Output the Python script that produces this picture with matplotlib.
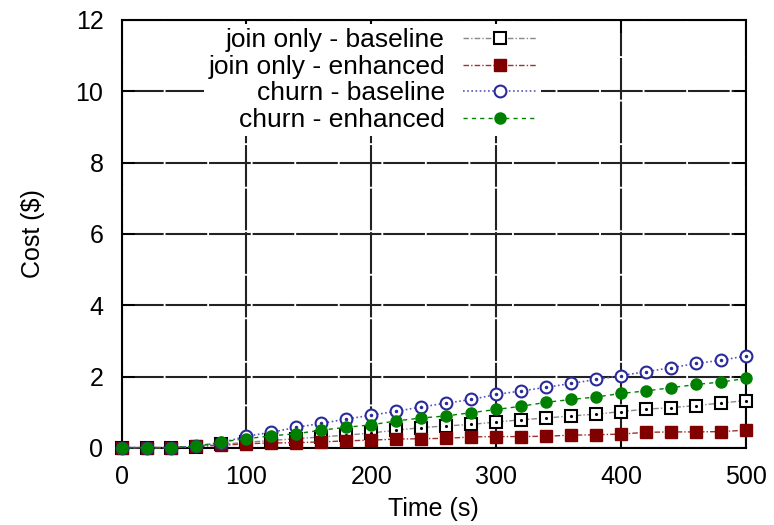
import matplotlib
matplotlib.use("Agg")
import matplotlib.pyplot as plt

plt.rcParams['font.family'] = ['Liberation Sans', 'DejaVu Sans']

# tempo (s) e custo ($)
tempo = [0, 20, 40, 60, 80, 100, 120, 140, 160, 180, 200, 220, 240, 260,
         280, 300, 320, 340, 360, 380, 400, 420, 440, 460, 480, 500]
join_baseline = [0.01, 0.01, 0.01, 0.04, 0.10, 0.16, 0.21, 0.26, 0.31, 0.36, 0.42, 0.50, 0.57,
                 0.62, 0.66, 0.73, 0.79, 0.84, 0.90, 0.95, 1.02, 1.09, 1.13, 1.19, 1.26, 1.33]
join_enhanced = [0.01, 0.01, 0.01, 0.05, 0.07, 0.12, 0.14, 0.15, 0.17, 0.20, 0.22, 0.25, 0.26,
                 0.27, 0.31, 0.32, 0.32, 0.33, 0.36, 0.37, 0.39, 0.44, 0.45, 0.45, 0.46, 0.50]
churn_baseline = [0.01, 0.01, 0.01, 0.05, 0.15, 0.33, 0.44, 0.58, 0.69, 0.81, 0.92, 1.03, 1.15,
                  1.26, 1.36, 1.50, 1.60, 1.70, 1.81, 1.92, 2.03, 2.14, 2.25, 2.37, 2.46, 2.58]
churn_enhanced = [0.01, 0.01, 0.01, 0.05, 0.17, 0.26, 0.34, 0.40, 0.50, 0.58, 0.65, 0.76, 0.84,
                  0.90, 0.99, 1.08, 1.17, 1.28, 1.36, 1.43, 1.53, 1.60, 1.69, 1.78, 1.85, 1.95]

fig = plt.figure(figsize=(7.74, 5.25), dpi=100)
ax = fig.add_axes([0.157, 0.1467, 0.807, 0.8153])

azul = '#2a2a9a'

# join only
ax.plot(tempo, join_baseline, color='#888888', linestyle=(0, (4, 1.5, 1, 1.5)), linewidth=1,
        marker='s', markersize=8.5, markerfacecolor='white', markeredgecolor='black',
        markeredgewidth=1.5, clip_on=False, zorder=3, label='join only - baseline')
ax.plot(tempo, join_baseline, linestyle='none', marker='.', markersize=2.5, color='black',
        clip_on=False, zorder=3)
ax.plot(tempo, join_enhanced, color='#a03030', linestyle=(0, (4, 1.5, 1, 1.5)), linewidth=1,
        marker='s', markersize=9, markerfacecolor='#800000', markeredgecolor='#800000',
        clip_on=False, zorder=4, label='join only - enhanced')
# churn
ax.plot(tempo, churn_baseline, color='#5555bb', linestyle=(0, (1, 1.5)), linewidth=1.2,
        marker='o', markersize=8.5, markerfacecolor='white', markeredgecolor=azul,
        markeredgewidth=1.5, clip_on=False, zorder=5, label='churn - baseline')
ax.plot(tempo, churn_baseline, linestyle='none', marker='.', markersize=3, color=azul,
        clip_on=False, zorder=5)
ax.plot(tempo, churn_enhanced, color='#008000', linestyle=(0, (3, 3)), linewidth=1,
        marker='o', markersize=8, markerfacecolor='#008000', markeredgecolor='#008000',
        clip_on=False, zorder=6, label='churn - enhanced')

ax.set_xlim(0, 500)
ax.set_ylim(0, 12)
ax.set_xticks(range(0, 501, 100))
ax.set_yticks(range(0, 13, 2))
ax.tick_params(direction='in', length=9, width=1.3, labelsize=18, top=True, right=True)
ax.tick_params(axis='y', pad=13)
ax.tick_params(axis='x', pad=12)
for s in ax.spines.values():
    s.set_linewidth(1.5)
ax.grid(True, color='#222222', linewidth=1.5, linestyle=(0, (20, 0.9)))
ax.set_axisbelow(True)

ax.set_xlabel('Time (s)', fontsize=18, labelpad=6)
ax.set_ylabel('Cost ($)', fontsize=18, labelpad=22)

leg = ax.legend(loc='upper right', bbox_to_anchor=(0.672, 0.99), fontsize=19,
                markerfirst=False, numpoints=1, handlelength=2.8, handletextpad=0.7,
                labelspacing=0.1, borderpad=0.15, borderaxespad=0,
                frameon=True, fancybox=False, framealpha=1, facecolor='white',
                edgecolor='none')
leg.set_zorder(10)

fig.savefig('out.png', dpi=100)
